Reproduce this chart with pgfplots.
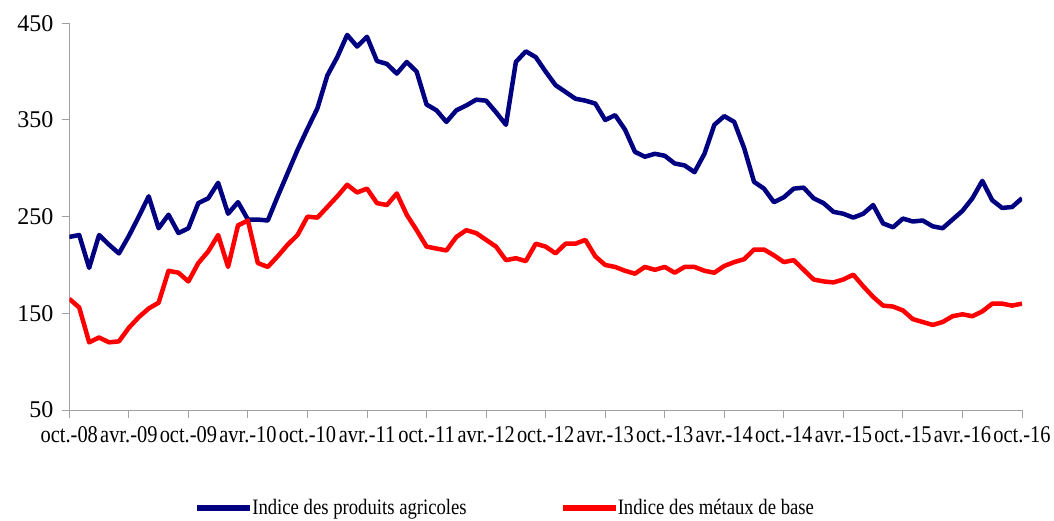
\documentclass[border=0pt]{standalone}
\usepackage{fontspec}
\setmainfont{Liberation Serif}
\newfontfamily\narrow[FakeStretch=0.85]{Liberation Serif}
\usepackage{pgfplots}
\usepackage{pgfplotstable}
\pgfplotsset{compat=1.18}
\definecolor{agri}{RGB}{0,0,128}
\definecolor{metal}{RGB}{255,0,0}
\definecolor{axgray}{RGB}{160,160,160}
\pgfplotstableread{
m v
0 229
1 231
2 197
3 231
4 221
5 212
6 230
7 250
8 271
9 238
10 252
11 233
12 238
13 264
14 269
15 285
16 253
17 265
18 247
19 247
20 246
21 271
22 295
23 319
24 341
25 362
26 396
27 415
28 438
29 426
30 436
31 411
32 408
33 398
34 410
35 400
36 366
37 360
38 348
39 360
40 365
41 371
42 370
43 358
44 345
45 410
46 421
47 415
48 400
49 386
50 379
51 372
52 370
53 367
54 350
55 355
56 340
57 317
58 312
59 315
60 313
61 305
62 303
63 296
64 315
65 345
66 354
67 348
68 321
69 286
70 279
71 265
72 270
73 279
74 280
75 269
76 264
77 255
78 253
79 249
80 253
81 262
82 243
83 239
84 248
85 245
86 246
87 240
88 238
89 247
90 256
91 269
92 287
93 267
94 259
95 260
96 269
}\agri
\pgfplotstableread{
m v
0 165
1 156
2 120
3 125
4 120
5 121
6 135
7 146
8 155
9 161
10 194
11 192
12 183
13 202
14 214
15 231
16 198
17 241
18 246
19 202
20 198
21 209
22 221
23 231
24 250
25 249
26 260
27 271
28 283
29 275
30 279
31 264
32 262
33 274
34 252
35 236
36 219
37 217
38 215
39 229
40 236
41 233
42 226
43 219
44 205
45 207
46 204
47 222
48 219
49 212
50 222
51 222
52 226
53 209
54 200
55 198
56 194
57 191
58 198
59 195
60 198
61 192
62 198
63 198
64 194
65 192
66 199
67 203
68 206
69 216
70 216
71 210
72 203
73 205
74 195
75 185
76 183
77 182
78 185
79 190
80 178
81 167
82 158
83 157
84 153
85 144
86 141
87 138
88 141
89 147
90 149
91 147
92 152
93 160
94 160
95 158
96 160
}\metal
\begin{document}
\begin{tikzpicture}[x=1pt,y=1pt]
\path[use as bounding box] (0,0) rectangle (1054,520);
\begin{axis}[
  at={(69.3pt,110pt)}, anchor=south west,
  scale only axis, width=952.7pt, height=386.7pt,
  xmin=0, xmax=96, ymin=50, ymax=450,
  axis x line=bottom, axis y line=left,
  axis line style={draw=axgray, line width=1pt, -},
  xtick={0,6,...,96},
  xticklabels={oct.-08,avr.-09,oct.-09,avr.-10,oct.-10,avr.-11,oct.-11,avr.-12,oct.-12,avr.-13,oct.-13,avr.-14,oct.-14,avr.-15,oct.-15,avr.-16,oct.-16},
  ytick={50,150,250,350,450},
  tick align=outside, major tick length=7.7pt,
  tick style={draw=axgray, line width=1pt},
  /pgf/number format/assume math mode=true,
  yticklabel style={font=\fontsize{24}{24}\selectfont, inner sep=0pt, anchor=east, xshift=-8pt},
  xticklabel style={font=\narrow\fontsize{24}{24}\selectfont, inner sep=0pt, anchor=north, yshift=-9pt},
  legend style={at={(axis description cs:0.131,-0.253)}, anchor=west, draw=none, fill=none,
    font=\narrow\fontsize{22}{22}\selectfont, inner sep=0pt,
    /tikz/every odd column/.append style={column sep=-3pt},
    /tikz/every even column/.append style={column sep=91pt}},
  legend columns=2,
  legend image code/.code={\draw[#1, line width=6pt] (0pt,0pt) -- (53pt,0pt);},
]
\addplot[agri, line width=4.5pt, line join=round] table[x=m, y=v] {\agri};
\addlegendentry{Indice des produits agricoles}
\addplot[metal, line width=4.5pt, line join=round] table[x=m, y=v] {\metal};
\addlegendentry{Indice des métaux de base}
\end{axis}
\end{tikzpicture}
\end{document}
